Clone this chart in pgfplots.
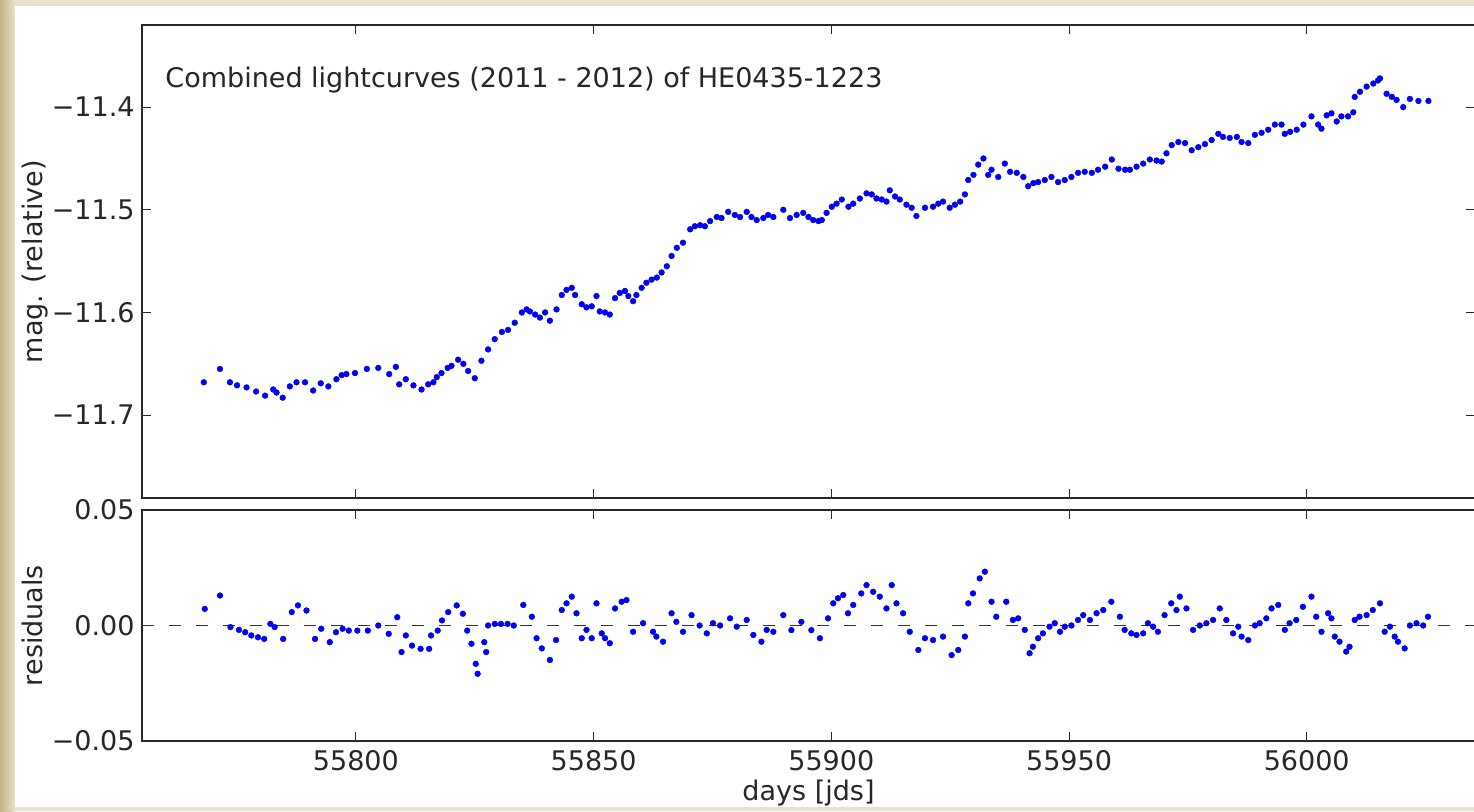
\documentclass[border=0pt]{standalone}
\usepackage{pgfplots}
\pgfplotsset{compat=1.18}
\usepackage{pgfplotstable}
\usepackage{fontspec}
\setmainfont{DejaVu Sans}
\definecolor{beigeDark}{RGB}{196,178,128}
\definecolor{beigeLight}{RGB}{232,224,200}
\definecolor{spine}{RGB}{40,40,40}

\pgfplotstableread{
x y
55768.0 -11.668
55771.4 -11.655
55773.5 -11.668
55775.0 -11.671
55777.0 -11.673
55779.0 -11.677
55780.9 -11.681
55782.6 -11.675
55783.3 -11.678
55784.6 -11.683
55786.1 -11.672
55787.5 -11.668
55789.3 -11.668
55791.0 -11.676
55792.6 -11.669
55794.2 -11.672
55795.9 -11.665
55797.0 -11.661
55798.0 -11.660
55799.8 -11.659
55802.3 -11.655
55804.7 -11.654
55807.0 -11.660
55808.4 -11.653
55809.1 -11.670
55810.5 -11.665
55812.1 -11.671
55813.8 -11.675
55815.2 -11.670
55816.3 -11.668
55817.0 -11.663
55818.0 -11.659
55819.3 -11.654
55820.1 -11.652
55821.5 -11.646
55822.6 -11.650
55823.6 -11.657
55825.0 -11.664
55826.4 -11.647
55827.8 -11.636
55829.2 -11.626
55830.7 -11.619
55832.0 -11.617
55833.4 -11.610
55834.9 -11.600
55835.9 -11.597
55836.6 -11.599
55837.7 -11.602
55838.7 -11.605
55839.8 -11.600
55840.8 -11.608
55842.2 -11.597
55843.3 -11.583
55844.3 -11.578
55845.4 -11.576
55846.1 -11.583
55847.5 -11.592
55848.5 -11.595
55849.6 -11.594
55850.6 -11.584
55851.3 -11.599
55852.4 -11.600
55853.4 -11.602
55854.5 -11.586
55855.5 -11.581
55856.6 -11.579
55857.3 -11.584
55858.3 -11.589
55859.0 -11.583
55860.1 -11.576
55861.1 -11.571
55862.2 -11.568
55863.3 -11.566
55864.3 -11.561
55865.4 -11.555
55866.4 -11.545
55867.5 -11.537
55868.8 -11.532
55870.3 -11.519
55871.3 -11.516
55872.4 -11.515
55873.4 -11.516
55874.5 -11.511
55875.9 -11.507
55876.9 -11.508
55878.3 -11.502
55879.7 -11.505
55880.8 -11.507
55882.2 -11.502
55883.2 -11.507
55884.3 -11.510
55885.7 -11.508
55886.7 -11.505
55887.8 -11.507
55889.9 -11.500
55891.3 -11.508
55892.7 -11.505
55894.1 -11.503
55895.2 -11.507
55896.2 -11.510
55897.3 -11.511
55898.0 -11.510
55899.0 -11.503
55900.1 -11.497
55901.1 -11.494
55902.2 -11.490
55903.6 -11.497
55904.6 -11.494
55906.0 -11.489
55907.4 -11.484
55908.5 -11.485
55909.5 -11.489
55910.6 -11.490
55911.6 -11.492
55912.3 -11.481
55913.4 -11.487
55914.4 -11.490
55915.8 -11.495
55916.9 -11.498
55917.9 -11.506
55919.7 -11.498
55921.4 -11.497
55922.5 -11.494
55923.5 -11.492
55924.9 -11.498
55926.0 -11.495
55927.1 -11.492
55928.1 -11.485
55928.8 -11.471
55929.9 -11.466
55930.9 -11.456
55932.0 -11.450
55933.0 -11.466
55933.7 -11.461
55935.1 -11.468
55936.5 -11.455
55937.6 -11.463
55939.0 -11.464
55940.4 -11.468
55941.4 -11.477
55942.5 -11.474
55943.5 -11.473
55944.9 -11.471
55946.3 -11.468
55947.7 -11.473
55949.1 -11.471
55950.5 -11.468
55951.9 -11.464
55953.3 -11.463
55954.8 -11.464
55956.1 -11.461
55957.6 -11.458
55959.0 -11.451
55960.4 -11.460
55961.8 -11.461
55962.8 -11.461
55964.2 -11.458
55965.6 -11.455
55967.0 -11.451
55968.4 -11.452
55969.5 -11.453
55970.5 -11.445
55971.6 -11.437
55973.0 -11.434
55974.4 -11.435
55975.8 -11.442
55977.2 -11.439
55978.6 -11.436
55980.0 -11.432
55981.4 -11.426
55982.4 -11.429
55983.8 -11.430
55985.3 -11.429
55986.3 -11.434
55987.7 -11.435
55989.1 -11.427
55990.5 -11.425
55991.9 -11.422
55993.3 -11.417
55994.7 -11.417
55995.4 -11.426
55996.5 -11.424
55997.9 -11.422
55999.3 -11.417
56001.0 -11.409
56002.4 -11.417
56003.1 -11.421
56004.2 -11.408
56005.2 -11.406
56006.3 -11.414
56007.3 -11.409
56008.7 -11.409
56009.8 -11.405
56010.1 -11.390
56011.2 -11.385
56012.6 -11.380
56014.0 -11.377
56015.0 -11.374
56015.4 -11.372
56016.8 -11.387
56017.9 -11.390
56018.9 -11.393
56020.3 -11.400
56021.7 -11.392
56023.5 -11.394
56025.6 -11.394
}\magtable

\pgfplotstableread{
x y
55768.2 0.0072
55771.4 0.0130
55773.6 -0.0007
55775.4 -0.0019
55776.7 -0.0029
55778.0 -0.0043
55779.4 -0.0051
55780.7 -0.0058
55782.0 0.0007
55782.9 -0.0007
55784.7 -0.0058
55786.5 0.0058
55787.8 0.0087
55789.6 0.0065
55791.4 -0.0058
55792.7 -0.0014
55794.5 -0.0072
55795.8 -0.0029
55797.2 -0.0014
55798.5 -0.0022
55800.3 -0.0022
55802.5 -0.0022
55804.7 0.0000
55806.9 -0.0036
55808.7 0.0036
55809.6 -0.0115
55810.5 -0.0043
55811.8 -0.0087
55813.6 -0.0101
55815.4 -0.0101
55815.8 -0.0043
55817.2 -0.0022
55818.1 0.0022
55819.4 0.0058
55821.2 0.0087
55822.5 0.0051
55823.4 -0.0022
55824.3 -0.0079
55825.2 -0.0166
55825.6 -0.0209
55827.0 -0.0072
55827.4 -0.0115
55827.8 0.0000
55829.2 0.0007
55830.5 0.0007
55831.9 0.0007
55833.2 0.0000
55835.2 0.0089
55837.0 0.0038
55838.0 -0.0055
55839.1 -0.0099
55840.8 -0.0149
55842.1 -0.0063
55843.3 0.0067
55844.3 0.0096
55845.4 0.0125
55846.4 0.0053
55847.5 -0.0055
55848.5 -0.0019
55849.6 -0.0055
55850.6 0.0096
55851.7 -0.0034
55852.4 -0.0055
55853.4 -0.0077
55854.5 0.0074
55855.9 0.0103
55856.9 0.0110
55858.3 -0.0027
55860.4 0.0010
55862.5 -0.0027
55863.2 -0.0048
55864.6 -0.0070
55866.4 0.0053
55867.4 0.0016
55868.8 -0.0027
55870.6 0.0045
55872.3 0.0000
55873.8 -0.0034
55875.1 0.0010
55876.6 0.0000
55878.7 0.0031
55880.1 -0.0005
55882.2 0.0024
55883.6 -0.0041
55885.3 -0.0070
55886.4 -0.0019
55887.8 -0.0027
55889.9 0.0045
55891.6 -0.0020
55893.7 0.0016
55895.8 -0.0020
55897.6 -0.0055
55899.3 0.0031
55900.4 0.0096
55901.4 0.0118
55902.5 0.0132
55903.5 0.0053
55904.6 0.0089
55906.3 0.0139
55907.4 0.0175
55908.8 0.0146
55910.2 0.0125
55911.6 0.0074
55912.7 0.0175
55913.7 0.0096
55915.1 0.0053
55916.5 -0.0027
55918.3 -0.0106
55919.7 -0.0055
55921.4 -0.0063
55923.5 -0.0048
55925.3 -0.0128
55926.7 -0.0106
55928.1 -0.0048
55928.8 0.0096
55929.8 0.0139
55931.2 0.0204
55932.3 0.0233
55933.7 0.0103
55934.7 0.0038
55936.8 0.0103
55938.2 0.0024
55939.3 0.0031
55940.7 -0.0019
55941.7 -0.0120
55942.4 -0.0092
55943.5 -0.0055
55944.5 -0.0034
55945.9 -0.0005
55947.0 0.0010
55948.1 -0.0027
55949.1 -0.0005
55950.5 0.0000
55951.9 0.0024
55953.0 0.0045
55954.4 0.0024
55955.8 0.0053
55957.2 0.0067
55958.9 0.0103
55960.7 0.0038
55961.7 -0.0019
55963.1 -0.0034
55964.2 -0.0041
55965.6 -0.0034
55966.6 0.0010
55967.7 -0.0005
55968.7 -0.0027
55970.1 0.0045
55971.5 0.0096
55972.6 0.0067
55973.3 0.0125
55974.7 0.0074
55976.1 -0.0019
55977.5 0.0000
55978.9 0.0010
55980.3 0.0024
55981.7 0.0074
55983.1 0.0024
55984.5 -0.0034
55985.6 -0.0005
55986.3 -0.0048
55987.7 -0.0063
55989.1 0.0000
55990.1 0.0010
55991.5 0.0031
55992.6 0.0074
55994.0 0.0089
55995.4 -0.0019
55996.4 0.0010
55997.8 0.0024
55999.2 0.0081
56001.0 0.0125
56002.0 0.0038
56003.1 -0.0027
56004.5 0.0053
56005.2 0.0031
56005.9 -0.0048
56006.9 -0.0070
56008.3 -0.0113
56009.0 -0.0092
56010.1 0.0024
56011.1 0.0038
56012.6 0.0045
56013.9 0.0067
56015.4 0.0096
56016.4 -0.0027
56017.5 -0.0005
56018.5 -0.0048
56019.2 -0.0070
56020.6 -0.0099
56021.7 0.0000
56023.1 0.0010
56024.5 0.0000
56025.5 0.0038
}\restable

\pgfplotsset{
  lcaxis/.style={
    scale only axis,
    anchor=south west,
    width=666.5pt,
    xmin=55755.0, xmax=56035.4,
    scaled ticks=false,
    axis line style={line width=1pt, spine},
    tick style={spine, line width=0.5pt},
    major tick length=4.5pt,
    tick align=inside,
    xtick={55800,55850,55900,55950,56000},
    font=\fontsize{13.5}{16}\selectfont,
    text=black!85,
    every axis y label/.style={at={(axis description cs:-0.075,0.5)},rotate=90,anchor=base},
    yticklabel style={anchor=east, inner sep=2pt, xshift=-1.5pt},
    clip=true,
  },
  dots/.style={only marks, mark=*, mark size=1.45pt,
    mark options={fill=blue, draw=blue!80!black, line width=0.2pt}},
}

\begin{document}
\begin{tikzpicture}
\useasboundingbox (0,0) rectangle (737pt,405.5pt);
\fill[beigeLight] (0,0) rectangle (737pt,405.5pt);
\shade[left color=beigeDark, right color=beigeLight] (0,0) rectangle (7.5pt,405.5pt);
\fill[white] (7.5pt,2pt) rectangle (737pt,402.5pt);

\begin{axis}[lcaxis,
  at={(71pt,156.35pt)},
  height=236.65pt,
  ymin=-11.781, ymax=-11.320,
  ytick={-11.7,-11.6,-11.5,-11.4},
  yticklabels={−11.7,−11.6,−11.5,−11.4},
  xticklabels={},
  ylabel={mag. (relative)},
]
\addplot[dots] table[x=x,y=y] {\magtable};
\node[anchor=base west, font=\fontsize{13.5}{16}\selectfont, text=black!85, inner sep=0pt]
  at (rel axis cs:0.0173,0.868) {Combined lightcurves (2011 - 2012) of HE0435-1223};
\end{axis}

\begin{axis}[lcaxis,
  at={(71pt,35pt)},
  height=115.5pt,
  ymin=-0.05, ymax=0.05,
  ytick={-0.05,0,0.05},
  yticklabels={−0.05,0.00,0.05},
  xticklabels={55800,55850,55900,55950,56000},
  xticklabel style={anchor=base, yshift=-14.8pt},
  ylabel={residuals},
  xlabel={days [jds]},
  every axis x label/.style={at={(axis description cs:0.5,-0.2554)},anchor=base},
]
\addplot[black!80, line width=0.7pt, dash pattern=on 6pt off 7.5pt] coordinates {(55755.0,0) (56035.4,0)};
\addplot[dots] table[x=x,y=y] {\restable};
\end{axis}
\end{tikzpicture}
\end{document}
